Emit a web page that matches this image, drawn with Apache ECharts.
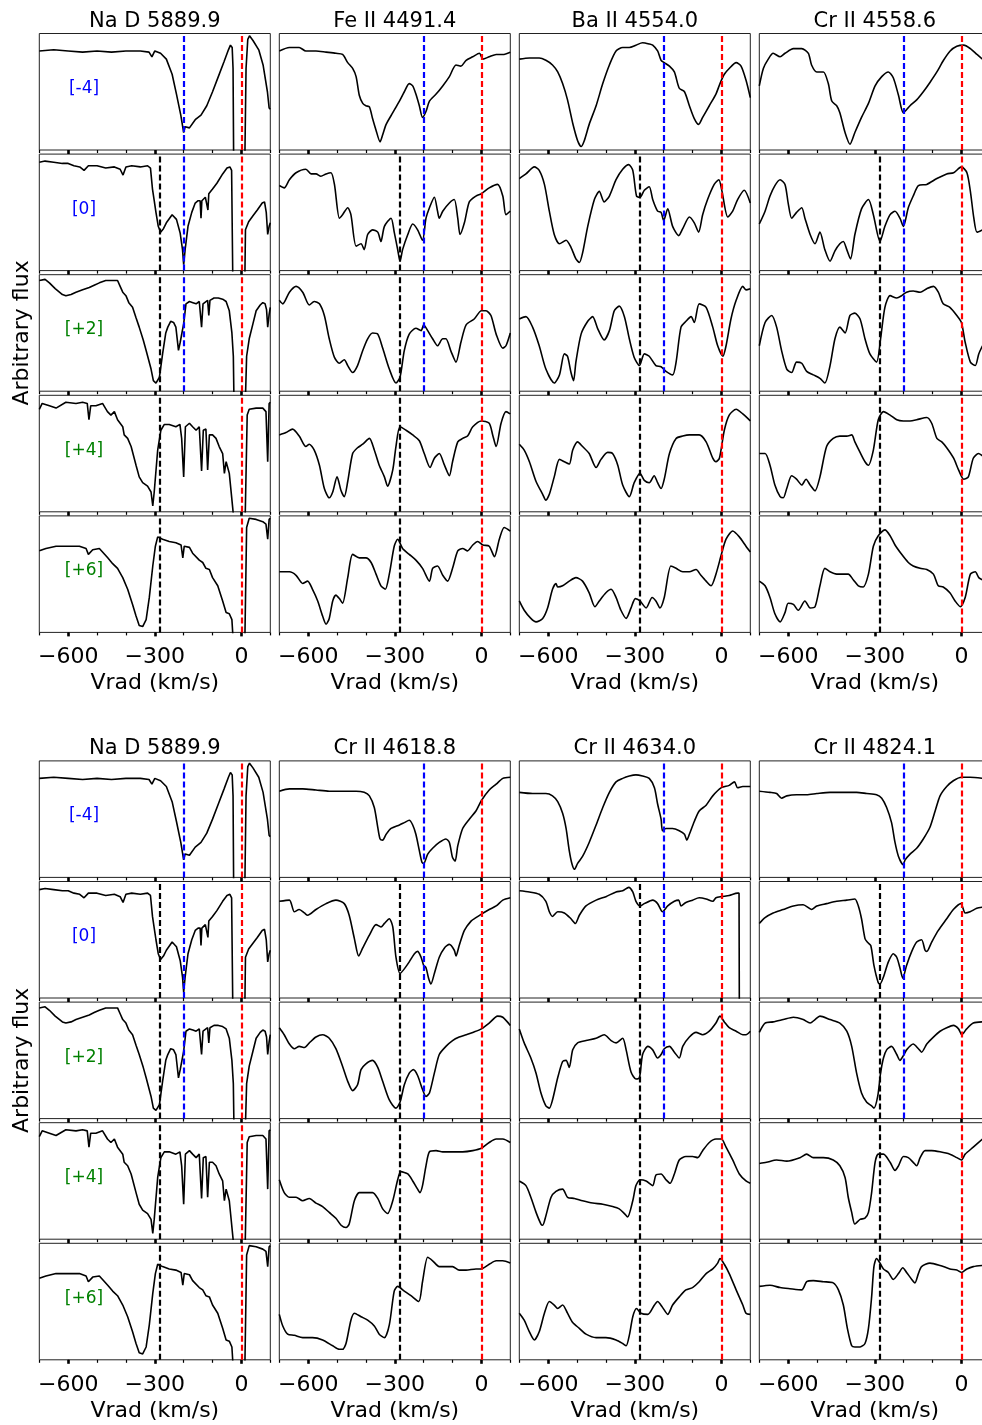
<!DOCTYPE html>
<html><head><meta charset="utf-8">
<script src="https://cdn.jsdelivr.net/npm/echarts@6/dist/echarts.min.js"></script>
<style>html,body{margin:0;padding:0;background:#fff}#c{width:982px;height:1425px}</style>
</head><body><div id="c"></div><script>
// ---------- data: [Vrad (km/s), relative flux within panel] ----------
const NaD_m4=[[-700,0.85],[-650,0.86],[-600,0.85],[-550,0.84],[-500,0.85],[-450,0.84],[-400,0.85],[-350,0.85],[-320,0.84],[-310,0.8],[-300,0.85],[-280,0.83],[-260,0.78],[-240,0.65],[-225,0.48],[-210,0.3],[-200,0.15],[-195,0.2],[-180,0.19],[-160,0.26],[-140,0.3],[-120,0.38],[-100,0.5],[-80,0.63],[-60,0.76],[-45,0.86],[-38,0.9],[-32,0.88],[-29,0.7],[-27,-0.05],[12,-0.05],[16,0.7],[22,0.95],[28,0.98],[40,0.94],[60,0.86],[75,0.73],[90,0.5],[96,0.36],[100,0.35]];
const NaD_0=[[-700,0.93],[-680,0.94],[-650,0.93],[-620,0.92],[-600,0.92],[-580,0.9],[-560,0.89],[-545,0.86],[-530,0.9],[-500,0.9],[-470,0.88],[-440,0.89],[-420,0.87],[-410,0.82],[-400,0.89],[-380,0.9],[-350,0.89],[-325,0.9],[-315,0.88],[-308,0.7],[-302,0.6],[-296,0.5],[-288,0.38],[-280,0.33],[-270,0.36],[-260,0.41],[-240,0.48],[-225,0.44],[-212,0.32],[-204,0.18],[-200,0.05],[-195,0.18],[-185,0.38],[-172,0.5],[-160,0.58],[-150,0.6],[-143,0.6],[-140,0.45],[-137,0.6],[-125,0.63],[-119,0.63],[-116,0.52],[-113,0.66],[-100,0.7],[-85,0.75],[-65,0.83],[-50,0.88],[-40,0.89],[-34,0.86],[-30,-0.05],[12,-0.05],[14,0.35],[25,0.42],[40,0.47],[55,0.52],[72,0.58],[80,0.59],[86,0.5],[91,0.31],[96,0.38],[100,0.41]];
const NaD_2=[[-700,0.95],[-680,0.96],[-665,0.93],[-645,0.88],[-620,0.83],[-608,0.82],[-590,0.83],[-573,0.85],[-550,0.87],[-527,0.89],[-510,0.91],[-492,0.93],[-470,0.95],[-450,0.95],[-429,0.95],[-420,0.9],[-411,0.85],[-400,0.82],[-390,0.76],[-377,0.72],[-365,0.63],[-354,0.55],[-340,0.44],[-330,0.35],[-313,0.19],[-305,0.09],[-296,0.07],[-284,0.12],[-273,0.32],[-262,0.5],[-255,0.55],[-245,0.6],[-235,0.59],[-227,0.55],[-218,0.35],[-212,0.42],[-200,0.58],[-192,0.75],[-180,0.77],[-168,0.76],[-157,0.75],[-146,0.77],[-140,0.76],[-138,0.55],[-133,0.75],[-117,0.78],[-113,0.65],[-109,0.78],[-95,0.8],[-80,0.8],[-65,0.79],[-53,0.77],[-42,0.69],[-33,0.5],[-28,0.3],[-26,-0.05],[14,-0.05],[18,0.3],[27,0.45],[40,0.58],[51,0.69],[65,0.74],[74,0.76],[82,0.75],[87,0.7],[91,0.55],[96,0.66],[100,0.72]];
const NaD_4=[[-700,0.88],[-690,0.93],[-665,0.91],[-642,0.89],[-608,0.94],[-573,0.93],[-550,0.94],[-534,0.93],[-528,0.79],[-522,0.91],[-504,0.91],[-481,0.93],[-464,0.86],[-452,0.83],[-440,0.86],[-429,0.79],[-411,0.73],[-406,0.66],[-394,0.63],[-382,0.56],[-365,0.4],[-354,0.3],[-342,0.25],[-325,0.22],[-313,0.17],[-307,0.05],[-302,0.17],[-290,0.53],[-279,0.7],[-267,0.75],[-250,0.75],[-227,0.73],[-213,0.75],[-207,0.63],[-200,0.3],[-194,0.73],[-180,0.76],[-169,0.73],[-157,0.7],[-146,0.73],[-138,0.35],[-132,0.7],[-123,0.71],[-117,0.36],[-111,0.66],[-100,0.66],[-88,0.63],[-77,0.56],[-65,0.5],[-59,0.33],[-53,0.43],[-42,0.33],[-30,0.03],[-27,-0.05],[13,-0.05],[20,0.83],[27,0.88],[51,0.89],[74,0.89],[85,0.86],[91,0.43],[96,0.93],[100,0.94]];
const NaD_6=[[-700,0.7],[-677,0.72],[-642,0.74],[-596,0.74],[-561,0.74],[-538,0.72],[-530,0.67],[-515,0.71],[-492,0.72],[-481,0.69],[-463,0.64],[-446,0.59],[-429,0.55],[-411,0.47],[-394,0.37],[-377,0.24],[-365,0.14],[-354,0.06],[-342,0.05],[-330,0.11],[-319,0.3],[-307,0.57],[-298,0.74],[-290,0.82],[-273,0.8],[-250,0.78],[-227,0.77],[-209,0.75],[-203,0.64],[-198,0.74],[-180,0.73],[-169,0.68],[-146,0.62],[-134,0.6],[-123,0.55],[-111,0.54],[-100,0.47],[-82,0.4],[-65,0.27],[-53,0.17],[-42,0.16],[-33,0.11],[-29,-0.05],[12,-0.05],[18,0.9],[27,0.98],[51,0.97],[74,0.95],[85,0.93],[91,0.8],[96,0.97],[100,0.98]];

const FeII_m4=[[-700,0.85],[-665,0.88],[-631,0.88],[-608,0.85],[-573,0.85],[-538,0.84],[-504,0.83],[-481,0.82],[-463,0.75],[-446,0.7],[-434,0.63],[-423,0.47],[-411,0.4],[-400,0.38],[-388,0.37],[-377,0.27],[-365,0.17],[-351,0.07],[-342,0.13],[-330,0.22],[-307,0.32],[-284,0.42],[-267,0.5],[-250,0.57],[-238,0.55],[-227,0.48],[-215,0.38],[-204,0.28],[-192,0.33],[-180,0.42],[-157,0.48],[-134,0.55],[-111,0.63],[-88,0.73],[-71,0.72],[-53,0.77],[-30,0.8],[-7,0.83],[5,0.78],[27,0.8],[51,0.82],[74,0.82],[100,0.84]];
const FeII_0=[[-700,0.73],[-683,0.71],[-665,0.78],[-642,0.84],[-608,0.87],[-590,0.83],[-573,0.83],[-556,0.81],[-538,0.83],[-521,0.84],[-509,0.74],[-492,0.45],[-481,0.48],[-463,0.54],[-452,0.48],[-434,0.21],[-417,0.23],[-406,0.18],[-394,0.31],[-377,0.35],[-359,0.33],[-348,0.25],[-336,0.38],[-313,0.45],[-302,0.33],[-290,0.18],[-282,0.08],[-273,0.18],[-255,0.31],[-238,0.4],[-221,0.35],[-204,0.26],[-192,0.45],[-180,0.54],[-163,0.63],[-152,0.51],[-146,0.45],[-134,0.51],[-111,0.58],[-94,0.61],[-82,0.45],[-74,0.31],[-59,0.41],[-42,0.59],[-19,0.64],[0,0.66],[27,0.71],[56,0.74],[74,0.64],[85,0.48],[100,0.51]];
const FeII_2=[[-700,0.78],[-688,0.75],[-665,0.85],[-642,0.9],[-619,0.85],[-596,0.74],[-579,0.77],[-561,0.75],[-544,0.65],[-527,0.45],[-509,0.29],[-492,0.24],[-475,0.27],[-463,0.22],[-446,0.16],[-429,0.22],[-411,0.35],[-394,0.45],[-377,0.5],[-359,0.49],[-342,0.37],[-319,0.19],[-296,0.07],[-282,0.12],[-267,0.35],[-250,0.49],[-227,0.54],[-209,0.52],[-200,0.57],[-186,0.52],[-169,0.45],[-152,0.39],[-134,0.45],[-123,0.45],[-105,0.34],[-88,0.25],[-71,0.42],[-53,0.57],[-25,0.62],[0,0.69],[16,0.69],[33,0.65],[51,0.49],[74,0.37],[85,0.39],[100,0.5]];
const FeII_4=[[-700,0.66],[-677,0.68],[-654,0.71],[-631,0.65],[-608,0.56],[-596,0.58],[-579,0.53],[-561,0.4],[-544,0.2],[-527,0.12],[-515,0.17],[-500,0.3],[-486,0.18],[-475,0.13],[-463,0.26],[-446,0.5],[-429,0.55],[-411,0.58],[-388,0.63],[-371,0.53],[-354,0.4],[-336,0.3],[-325,0.22],[-307,0.36],[-296,0.56],[-282,0.73],[-261,0.7],[-238,0.66],[-215,0.61],[-198,0.5],[-178,0.38],[-163,0.46],[-146,0.5],[-128,0.4],[-111,0.31],[-100,0.43],[-82,0.6],[-65,0.63],[-48,0.65],[-30,0.73],[0,0.78],[27,0.76],[39,0.66],[51,0.56],[68,0.76],[85,0.86],[100,0.84]];
const FeII_6=[[-700,0.52],[-665,0.52],[-642,0.49],[-619,0.42],[-602,0.44],[-585,0.37],[-567,0.27],[-550,0.14],[-538,0.07],[-527,0.12],[-515,0.27],[-504,0.32],[-492,0.29],[-481,0.25],[-463,0.47],[-446,0.67],[-423,0.64],[-400,0.64],[-382,0.6],[-365,0.5],[-348,0.4],[-333,0.37],[-319,0.5],[-302,0.74],[-290,0.8],[-273,0.72],[-250,0.67],[-227,0.62],[-204,0.55],[-180,0.44],[-169,0.55],[-152,0.57],[-134,0.49],[-117,0.44],[-100,0.55],[-82,0.7],[-65,0.72],[-48,0.7],[-30,0.75],[-13,0.78],[5,0.75],[27,0.74],[45,0.65],[62,0.8],[79,0.9],[100,0.87]];

const BaII_m4=[[-700,0.78],[-665,0.79],[-631,0.79],[-608,0.77],[-585,0.73],[-567,0.67],[-550,0.57],[-533,0.43],[-515,0.23],[-498,0.08],[-486,0.03],[-475,0.08],[-458,0.22],[-434,0.38],[-411,0.57],[-388,0.73],[-365,0.85],[-342,0.88],[-319,0.88],[-296,0.9],[-273,0.92],[-250,0.91],[-238,0.9],[-221,0.85],[-209,0.77],[-198,0.75],[-180,0.72],[-163,0.67],[-146,0.53],[-128,0.5],[-111,0.38],[-94,0.27],[-79,0.22],[-65,0.28],[-42,0.38],[-19,0.48],[-5,0.57],[10,0.65],[27,0.7],[51,0.75],[68,0.72],[85,0.6],[100,0.45]];
const BaII_0=[[-700,0.79],[-677,0.83],[-648,0.89],[-631,0.86],[-613,0.74],[-596,0.51],[-579,0.31],[-561,0.23],[-538,0.26],[-521,0.2],[-504,0.1],[-492,0.07],[-481,0.15],[-463,0.38],[-440,0.61],[-423,0.68],[-406,0.59],[-388,0.64],[-365,0.78],[-342,0.87],[-321,0.91],[-307,0.86],[-294,0.64],[-282,0.63],[-267,0.69],[-250,0.72],[-238,0.61],[-221,0.51],[-209,0.5],[-200,0.43],[-186,0.53],[-169,0.38],[-148,0.3],[-134,0.36],[-111,0.46],[-94,0.41],[-79,0.33],[-65,0.48],[-48,0.61],[-25,0.74],[-9,0.78],[2,0.68],[22,0.46],[39,0.51],[56,0.61],[79,0.69],[100,0.58]];
const BaII_2=[[-700,0.62],[-677,0.64],[-654,0.55],[-631,0.39],[-608,0.19],[-579,0.07],[-561,0.14],[-544,0.32],[-533,0.3],[-521,0.16],[-512,0.09],[-504,0.25],[-486,0.49],[-463,0.6],[-446,0.64],[-429,0.54],[-406,0.44],[-388,0.52],[-371,0.69],[-354,0.73],[-336,0.64],[-319,0.45],[-302,0.29],[-284,0.22],[-267,0.32],[-250,0.3],[-227,0.22],[-209,0.21],[-192,0.17],[-169,0.14],[-157,0.25],[-140,0.55],[-123,0.6],[-105,0.64],[-94,0.59],[-77,0.75],[-53,0.72],[-30,0.55],[-13,0.39],[5,0.3],[16,0.39],[33,0.62],[51,0.78],[74,0.9],[85,0.87],[100,0.88]];
const BaII_4=[[-700,0.58],[-683,0.53],[-665,0.43],[-642,0.26],[-619,0.15],[-608,0.1],[-596,0.15],[-579,0.3],[-561,0.45],[-544,0.43],[-527,0.41],[-515,0.53],[-498,0.6],[-481,0.56],[-458,0.5],[-434,0.38],[-417,0.45],[-394,0.51],[-377,0.5],[-359,0.4],[-342,0.23],[-319,0.13],[-302,0.25],[-282,0.33],[-267,0.27],[-250,0.25],[-233,0.31],[-221,0.25],[-209,0.2],[-198,0.28],[-180,0.5],[-157,0.63],[-134,0.65],[-111,0.66],[-77,0.66],[-53,0.6],[-30,0.46],[-19,0.43],[-7,0.46],[10,0.7],[27,0.83],[51,0.88],[74,0.84],[100,0.78]];
const BaII_6=[[-700,0.27],[-683,0.19],[-660,0.12],[-642,0.09],[-619,0.12],[-602,0.21],[-585,0.37],[-573,0.42],[-567,0.39],[-550,0.4],[-527,0.44],[-504,0.47],[-481,0.44],[-458,0.34],[-438,0.22],[-423,0.27],[-400,0.34],[-382,0.37],[-365,0.3],[-348,0.19],[-330,0.12],[-313,0.21],[-298,0.29],[-282,0.27],[-261,0.21],[-240,0.3],[-227,0.27],[-213,0.21],[-198,0.3],[-175,0.57],[-157,0.55],[-134,0.52],[-111,0.52],[-88,0.54],[-71,0.49],[-53,0.44],[-36,0.4],[-19,0.5],[0,0.67],[16,0.8],[39,0.87],[62,0.82],[85,0.74],[100,0.69]];

const CrII4558_m4=[[-700,0.55],[-686,0.7],[-669,0.78],[-652,0.83],[-628,0.8],[-611,0.83],[-582,0.87],[-553,0.87],[-530,0.83],[-519,0.73],[-501,0.67],[-478,0.67],[-461,0.57],[-449,0.42],[-432,0.38],[-421,0.32],[-403,0.15],[-386,0.05],[-369,0.15],[-346,0.28],[-322,0.4],[-299,0.55],[-276,0.63],[-253,0.67],[-236,0.62],[-218,0.47],[-201,0.32],[-178,0.38],[-155,0.43],[-132,0.5],[-109,0.58],[-85,0.67],[-62,0.77],[-39,0.85],[-16,0.89],[8,0.9],[31,0.87],[54,0.82],[73,0.78]];
const CrII4558_0=[[-700,0.4],[-680,0.51],[-663,0.64],[-646,0.73],[-628,0.78],[-611,0.74],[-600,0.58],[-588,0.45],[-571,0.5],[-553,0.54],[-542,0.45],[-524,0.31],[-507,0.23],[-490,0.33],[-473,0.18],[-455,0.08],[-438,0.17],[-421,0.23],[-409,0.25],[-397,0.18],[-384,0.1],[-369,0.31],[-346,0.53],[-322,0.61],[-305,0.48],[-282,0.25],[-265,0.38],[-247,0.48],[-230,0.51],[-213,0.45],[-201,0.38],[-184,0.54],[-167,0.64],[-149,0.73],[-120,0.74],[-85,0.79],[-51,0.83],[-27,0.84],[0,0.89],[19,0.84],[31,0.68],[43,0.45],[54,0.33],[73,0.35]];
const CrII4558_2=[[-700,0.39],[-680,0.59],[-657,0.65],[-640,0.55],[-623,0.35],[-605,0.19],[-588,0.16],[-571,0.25],[-553,0.24],[-536,0.17],[-513,0.14],[-490,0.11],[-473,0.07],[-455,0.22],[-438,0.45],[-421,0.55],[-403,0.5],[-386,0.65],[-369,0.67],[-351,0.62],[-334,0.45],[-317,0.32],[-294,0.25],[-280,0.45],[-265,0.72],[-247,0.82],[-224,0.8],[-207,0.82],[-190,0.85],[-167,0.86],[-143,0.85],[-120,0.88],[-97,0.9],[-80,0.85],[-63,0.75],[-40,0.72],[-16,0.65],[0,0.59],[13,0.42],[31,0.25],[48,0.22],[60,0.32],[73,0.39]];
const CrII4558_4=[[-700,0.5],[-680,0.5],[-663,0.4],[-646,0.23],[-628,0.13],[-617,0.12],[-605,0.2],[-588,0.31],[-571,0.28],[-553,0.23],[-538,0.28],[-524,0.23],[-507,0.18],[-490,0.3],[-467,0.56],[-444,0.63],[-421,0.65],[-397,0.65],[-380,0.66],[-369,0.6],[-351,0.51],[-334,0.43],[-322,0.4],[-305,0.53],[-288,0.79],[-270,0.86],[-247,0.83],[-224,0.79],[-201,0.78],[-178,0.78],[-155,0.79],[-120,0.81],[-103,0.76],[-85,0.63],[-68,0.6],[-51,0.55],[-27,0.46],[-10,0.36],[8,0.28],[24,0.3],[41,0.46],[59,0.5],[73,0.48]];
const CrII4558_6=[[-700,0.44],[-680,0.4],[-663,0.3],[-646,0.16],[-628,0.09],[-611,0.17],[-600,0.25],[-582,0.24],[-565,0.19],[-542,0.27],[-524,0.21],[-507,0.22],[-490,0.4],[-473,0.55],[-455,0.52],[-432,0.5],[-409,0.5],[-392,0.5],[-374,0.45],[-357,0.4],[-340,0.39],[-322,0.5],[-305,0.74],[-288,0.83],[-265,0.88],[-247,0.83],[-230,0.75],[-207,0.67],[-184,0.6],[-167,0.57],[-143,0.55],[-120,0.54],[-97,0.5],[-80,0.4],[-63,0.39],[-40,0.34],[-22,0.27],[-4,0.22],[13,0.3],[31,0.5],[48,0.52],[60,0.47],[73,0.45]];

const CrII4618_m4=[[-700,0.74],[-665,0.76],[-619,0.76],[-573,0.75],[-527,0.74],[-481,0.74],[-434,0.74],[-406,0.73],[-388,0.7],[-371,0.6],[-359,0.43],[-351,0.33],[-342,0.32],[-330,0.37],[-313,0.42],[-284,0.45],[-267,0.47],[-250,0.49],[-238,0.45],[-227,0.37],[-215,0.23],[-206,0.13],[-200,0.12],[-186,0.2],[-169,0.25],[-146,0.3],[-123,0.33],[-111,0.3],[-100,0.17],[-91,0.14],[-82,0.27],[-65,0.42],[-42,0.5],[-19,0.57],[0,0.66],[27,0.75],[51,0.8],[74,0.85],[100,0.86]];
const CrII4618_0=[[-700,0.83],[-665,0.84],[-648,0.74],[-631,0.76],[-613,0.73],[-602,0.71],[-573,0.76],[-538,0.81],[-504,0.84],[-475,0.81],[-458,0.71],[-440,0.51],[-425,0.36],[-411,0.43],[-388,0.54],[-365,0.63],[-348,0.61],[-336,0.64],[-319,0.68],[-307,0.61],[-296,0.35],[-282,0.21],[-267,0.25],[-250,0.31],[-232,0.38],[-221,0.4],[-209,0.35],[-200,0.28],[-192,0.26],[-183,0.17],[-175,0.12],[-163,0.21],[-146,0.35],[-128,0.43],[-111,0.46],[-94,0.41],[-88,0.36],[-77,0.45],[-59,0.58],[-36,0.66],[-19,0.69],[0,0.72],[27,0.76],[51,0.79],[74,0.84],[100,0.86]];
const CrII4618_2=[[-700,0.78],[-683,0.72],[-665,0.64],[-648,0.6],[-631,0.62],[-613,0.61],[-596,0.65],[-573,0.7],[-550,0.72],[-527,0.69],[-504,0.6],[-481,0.45],[-463,0.32],[-446,0.24],[-429,0.29],[-417,0.42],[-400,0.47],[-377,0.5],[-359,0.44],[-342,0.32],[-319,0.16],[-296,0.09],[-282,0.14],[-267,0.29],[-250,0.39],[-236,0.42],[-221,0.37],[-204,0.25],[-192,0.19],[-180,0.22],[-163,0.39],[-146,0.55],[-123,0.62],[-100,0.67],[-77,0.7],[-53,0.72],[-30,0.74],[0,0.77],[27,0.82],[56,0.88],[74,0.87],[100,0.8]];
const CrII4618_4=[[-700,0.51],[-683,0.4],[-665,0.36],[-642,0.36],[-619,0.33],[-596,0.35],[-573,0.31],[-550,0.28],[-527,0.23],[-504,0.18],[-486,0.12],[-469,0.1],[-458,0.13],[-440,0.33],[-423,0.4],[-400,0.4],[-377,0.4],[-359,0.35],[-342,0.26],[-325,0.22],[-307,0.33],[-290,0.51],[-279,0.58],[-255,0.56],[-238,0.5],[-221,0.43],[-213,0.4],[-204,0.46],[-192,0.63],[-180,0.75],[-157,0.76],[-134,0.75],[-100,0.75],[-65,0.75],[-30,0.76],[0,0.78],[27,0.83],[51,0.86],[74,0.86],[100,0.83]];
const CrII4618_6=[[-700,0.39],[-688,0.29],[-671,0.22],[-648,0.21],[-619,0.19],[-585,0.19],[-550,0.17],[-515,0.12],[-492,0.09],[-481,0.09],[-469,0.14],[-452,0.34],[-440,0.4],[-417,0.37],[-394,0.34],[-371,0.29],[-354,0.22],[-336,0.19],[-319,0.3],[-302,0.59],[-290,0.63],[-267,0.59],[-244,0.55],[-217,0.5],[-204,0.67],[-186,0.88],[-169,0.85],[-146,0.8],[-123,0.8],[-100,0.8],[-77,0.77],[-53,0.77],[-19,0.78],[0,0.78],[27,0.82],[51,0.85],[74,0.85],[100,0.83]];

const CrII4634_m4=[[-700,0.73],[-654,0.72],[-608,0.72],[-585,0.7],[-567,0.65],[-550,0.55],[-538,0.42],[-527,0.23],[-518,0.12],[-509,0.07],[-498,0.12],[-481,0.18],[-458,0.3],[-434,0.45],[-411,0.6],[-388,0.73],[-365,0.82],[-342,0.85],[-319,0.87],[-296,0.88],[-273,0.87],[-250,0.85],[-232,0.77],[-221,0.63],[-209,0.5],[-204,0.4],[-192,0.42],[-169,0.42],[-146,0.4],[-128,0.37],[-120,0.32],[-111,0.37],[-94,0.48],[-77,0.57],[-53,0.62],[-30,0.7],[0,0.77],[27,0.79],[45,0.82],[56,0.77],[74,0.78],[100,0.78]];
const CrII4634_0=[[-700,0.92],[-665,0.91],[-631,0.89],[-608,0.83],[-596,0.74],[-585,0.7],[-567,0.74],[-544,0.73],[-521,0.68],[-506,0.64],[-492,0.71],[-469,0.79],[-434,0.84],[-400,0.87],[-365,0.91],[-342,0.92],[-321,0.95],[-307,0.91],[-296,0.83],[-282,0.79],[-267,0.81],[-238,0.84],[-221,0.81],[-204,0.74],[-186,0.79],[-163,0.83],[-148,0.84],[-140,0.79],[-123,0.82],[-100,0.84],[-77,0.86],[-53,0.85],[-30,0.83],[-19,0.86],[0,0.87],[27,0.88],[56,0.9],[61,0.9],[62,-0.05],[100,-0.05]];
const CrII4634_2=[[-700,0.77],[-683,0.65],[-660,0.52],[-642,0.39],[-625,0.22],[-608,0.11],[-596,0.09],[-585,0.16],[-567,0.35],[-550,0.49],[-538,0.5],[-527,0.44],[-515,0.59],[-498,0.65],[-469,0.67],[-434,0.69],[-406,0.72],[-382,0.67],[-365,0.65],[-342,0.69],[-330,0.59],[-313,0.4],[-296,0.34],[-284,0.35],[-273,0.55],[-255,0.62],[-238,0.59],[-221,0.52],[-209,0.55],[-198,0.6],[-180,0.62],[-163,0.57],[-146,0.52],[-134,0.62],[-111,0.7],[-88,0.74],[-65,0.72],[-42,0.75],[-19,0.82],[-5,0.88],[10,0.83],[27,0.78],[51,0.75],[74,0.72],[85,0.72],[100,0.75]];
const CrII4634_4=[[-700,0.5],[-677,0.46],[-660,0.36],[-642,0.23],[-625,0.13],[-619,0.12],[-608,0.2],[-590,0.36],[-573,0.41],[-550,0.43],[-533,0.36],[-509,0.35],[-481,0.33],[-446,0.31],[-411,0.3],[-377,0.28],[-354,0.26],[-336,0.22],[-325,0.19],[-307,0.33],[-296,0.46],[-282,0.51],[-261,0.5],[-238,0.46],[-227,0.55],[-209,0.56],[-192,0.51],[-178,0.48],[-163,0.56],[-146,0.68],[-123,0.71],[-100,0.71],[-82,0.7],[-65,0.76],[-42,0.83],[-19,0.86],[0,0.86],[16,0.79],[39,0.68],[62,0.56],[85,0.5],[100,0.48]];
const CrII4634_6=[[-700,0.4],[-683,0.34],[-665,0.24],[-648,0.17],[-631,0.24],[-613,0.4],[-596,0.5],[-579,0.47],[-567,0.44],[-550,0.47],[-533,0.4],[-515,0.32],[-492,0.27],[-469,0.22],[-434,0.19],[-400,0.19],[-365,0.17],[-342,0.14],[-330,0.12],[-319,0.21],[-307,0.37],[-294,0.44],[-279,0.4],[-255,0.39],[-232,0.47],[-221,0.5],[-204,0.45],[-186,0.39],[-169,0.47],[-146,0.54],[-123,0.6],[-100,0.62],[-77,0.67],[-53,0.74],[-30,0.78],[-13,0.83],[-5,0.87],[10,0.82],[27,0.74],[51,0.6],[74,0.47],[85,0.4],[100,0.39]];

const CrII4824_m4=[[-700,0.74],[-663,0.73],[-640,0.72],[-623,0.68],[-605,0.7],[-571,0.71],[-536,0.71],[-501,0.72],[-455,0.73],[-409,0.73],[-363,0.73],[-328,0.72],[-294,0.71],[-276,0.68],[-259,0.6],[-242,0.47],[-230,0.3],[-218,0.18],[-202,0.11],[-195,0.15],[-178,0.2],[-155,0.25],[-132,0.33],[-109,0.43],[-91,0.57],[-74,0.7],[-51,0.78],[-28,0.83],[0,0.86],[30,0.86],[73,0.85]];
const CrII4824_0=[[-700,0.64],[-680,0.69],[-652,0.73],[-617,0.76],[-582,0.79],[-548,0.8],[-519,0.76],[-501,0.79],[-467,0.81],[-432,0.83],[-397,0.84],[-369,0.85],[-357,0.79],[-346,0.68],[-334,0.51],[-326,0.48],[-314,0.45],[-303,0.28],[-288,0.13],[-282,0.12],[-270,0.18],[-253,0.31],[-236,0.38],[-224,0.35],[-213,0.26],[-203,0.17],[-190,0.28],[-172,0.4],[-155,0.48],[-138,0.5],[-126,0.41],[-120,0.4],[-103,0.48],[-80,0.58],[-51,0.68],[-28,0.76],[-2,0.81],[13,0.73],[30,0.74],[53,0.77],[73,0.78]];
const CrII4824_2=[[-700,0.74],[-680,0.82],[-652,0.83],[-617,0.85],[-582,0.87],[-548,0.85],[-524,0.82],[-507,0.85],[-490,0.88],[-455,0.85],[-421,0.82],[-397,0.75],[-380,0.62],[-363,0.39],[-346,0.22],[-328,0.14],[-311,0.11],[-303,0.09],[-290,0.19],[-280,0.39],[-270,0.52],[-259,0.59],[-242,0.62],[-224,0.55],[-213,0.5],[-201,0.54],[-190,0.59],[-167,0.64],[-149,0.6],[-138,0.57],[-120,0.64],[-97,0.7],[-74,0.75],[-51,0.78],[-28,0.8],[-10,0.77],[1,0.72],[18,0.77],[41,0.82],[73,0.83]];
const CrII4824_4=[[-700,0.65],[-675,0.66],[-640,0.68],[-605,0.67],[-559,0.7],[-536,0.73],[-513,0.7],[-478,0.7],[-444,0.68],[-421,0.63],[-403,0.53],[-392,0.36],[-380,0.23],[-369,0.13],[-351,0.17],[-334,0.18],[-322,0.23],[-311,0.4],[-299,0.66],[-288,0.73],[-270,0.73],[-247,0.66],[-230,0.59],[-218,0.63],[-201,0.71],[-184,0.7],[-167,0.66],[-155,0.63],[-143,0.7],[-126,0.76],[-103,0.76],[-74,0.75],[-40,0.73],[-16,0.7],[0,0.68],[13,0.73],[41,0.79],[73,0.86]];
const CrII4824_6=[[-700,0.63],[-663,0.64],[-628,0.62],[-594,0.61],[-553,0.6],[-536,0.67],[-513,0.68],[-478,0.67],[-444,0.66],[-426,0.6],[-409,0.47],[-395,0.27],[-380,0.12],[-369,0.11],[-351,0.11],[-334,0.14],[-322,0.27],[-311,0.54],[-303,0.8],[-294,0.87],[-282,0.83],[-270,0.78],[-253,0.75],[-236,0.69],[-218,0.74],[-203,0.79],[-190,0.75],[-172,0.69],[-161,0.66],[-149,0.74],[-138,0.8],[-109,0.83],[-74,0.81],[-40,0.78],[-16,0.77],[0,0.75],[19,0.78],[41,0.8],[73,0.81]];

const topTitles=['Na D 5889.9','Fe II 4491.4','Ba II 4554.0','Cr II 4558.6'];
const bottomTitles=['Na D 5889.9','Cr II 4618.8','Cr II 4634.0','Cr II 4824.1'];
const rowLabels=['[-4]','[0]','[+2]','[+4]','[+6]'];
const rowLabelColors=['#0000ff','#0000ff','#008000','#008000','#008000'];
const markerVel={black:-282,blue:-200,red:0};
const markerColor={black:'#000000',blue:'#0000ff',red:'#ff0000'};
const rowMarkers=[['blue','red'],['black','blue','red'],['black','blue','red'],['black','red'],['black','red']];
const xTickLabels=[-600,-300,0];
const xLabel='Vrad (km/s)';
const yLabel='Arbitrary flux';

const topPanels=[[NaD_m4,NaD_0,NaD_2,NaD_4,NaD_6],[FeII_m4,FeII_0,FeII_2,FeII_4,FeII_6],[BaII_m4,BaII_0,BaII_2,BaII_4,BaII_6],[CrII4558_m4,CrII4558_0,CrII4558_2,CrII4558_4,CrII4558_6]];
const bottomPanels=[[NaD_m4,NaD_0,NaD_2,NaD_4,NaD_6],[CrII4618_m4,CrII4618_0,CrII4618_2,CrII4618_4,CrII4618_6],[CrII4634_m4,CrII4634_0,CrII4634_2,CrII4634_4,CrII4634_6],[CrII4824_m4,CrII4824_0,CrII4824_2,CrII4824_4,CrII4824_6]];

// ---------- layout ----------
const FONT='"DejaVu Sans", sans-serif';
const colLeft=[39.3,279.3,519.3,759.3], colW=231;
const blockTop=[33.5,760.9], rowPitch=120.6, rowH=116.5;
const blocks=[{titles:topTitles,panels:topPanels},{titles:bottomTitles,panels:bottomPanels}];

const grids=[],xAxes=[],yAxes=[],series=[],graphics=[];
const fmt=v=>xTickLabels.includes(v)?(v<0?'\u2212'+Math.abs(v):String(v)):'';
const txt=(x,y,text,size,color,rot)=>{const o={type:'text',x:x,y:y,style:{text:text,font:size+'px '+FONT,fill:color,align:'center',verticalAlign:'middle',textAlign:'center',textVerticalAlign:'middle'}};if(rot)o.rotation=rot;return o;};
let g=0;
blocks.forEach((blk,b)=>{
  const t0=blockTop[b];
  for(let c=0;c<4;c++){
    const cx=colLeft[c]+colW/2;
    graphics.push(txt(cx,t0-12,blk.titles[c],21,'#000'));
    graphics.push(txt(cx,t0+4*rowPitch+rowH+51,xLabel,22,'#000'));
    for(let r=0;r<5;r++){
      const top=t0+r*rowPitch;
      grids.push({left:colLeft[c],top:top,width:colW,height:rowH,show:true,borderColor:'#222',borderWidth:1,backgroundColor:'transparent',containLabel:false,outerBoundsMode:'none'});
      xAxes.push({type:'value',gridIndex:g,position:'bottom',min:-700,max:100,interval:100,
        axisLine:{show:false},splitLine:{show:false},
        axisTick:{show:true,inside:false,length:3,lineStyle:{color:'#000',width:1.2}},
        axisLabel:{show:r===4,interval:0,margin:14,formatter:fmt,fontSize:22,fontFamily:FONT,color:'#000',showMinLabel:true,showMaxLabel:true,hideOverlap:false}});
      xAxes.push({type:'value',gridIndex:g,position:'bottom',min:-700,max:100,
        axisLine:{show:false},splitLine:{show:false},axisLabel:{show:false},
        axisTick:{show:true,inside:false,length:4,customValues:xTickLabels,lineStyle:{color:'#000',width:2.6}}});
      yAxes.push({type:'value',gridIndex:g,min:0,max:1,show:false});
      series.push({type:'line',xAxisIndex:2*g,yAxisIndex:g,data:blk.panels[c][r],showSymbol:false,symbol:'none',
        smooth:(b===0||c>0)&&c>0?0.25:false,
        lineStyle:{color:'#000',width:1.6},clip:true,silent:true,animation:false,z:2,
        markLine:{silent:true,symbol:['none','none'],label:{show:false},animation:false,z:3,
          data:rowMarkers[r].map(k=>({xAxis:markerVel[k],lineStyle:{color:markerColor[k],type:[6,3],width:2.2}}))}});
      if(c===0) graphics.push(txt(84,top+55,rowLabels[r],17,rowLabelColors[r]));
      g++;
    }
  }
  graphics.push(txt(22,t0+(4*rowPitch+rowH)/2,yLabel,22,'#000',Math.PI/2));
});

const chart=echarts.init(document.getElementById('c'),null,{renderer:'canvas'});
chart.setOption({animation:false,backgroundColor:'#fff',grid:grids,xAxis:xAxes,yAxis:yAxes,series:series,graphic:graphics});
</script></body></html>
